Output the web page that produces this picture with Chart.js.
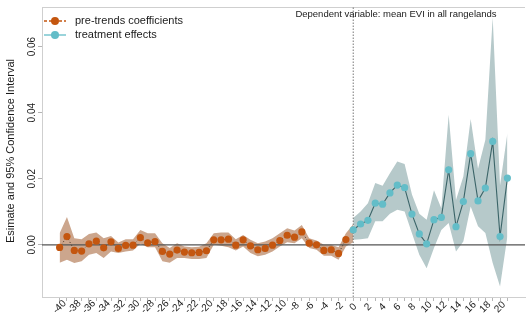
<!DOCTYPE html>
<html>
<head>
<meta charset="utf-8">
<script src="https://cdn.jsdelivr.net/npm/chart.js@4/dist/chart.umd.min.js"></script>
<style>
  html, body { margin: 0; padding: 0; background: #fff; }
  #wrap { width: 529px; height: 323px; position: relative; }
</style>
</head>
<body>
<div id="wrap"><canvas id="evi"></canvas></div>
<script>
// event time, pre-period (leads)
const preX = [-40, -39, -38, -37, -36, -35, -34, -33, -32, -31, -30, -29, -28, -27, -26, -25, -24, -23, -22, -21,
              -20, -19, -18, -17, -16, -15, -14, -13, -12, -11, -10, -9, -8, -7, -6, -5, -4, -3, -2, -1];
const preEst = [-0.0008, 0.0025, -0.0017, -0.0019, 0.0003, 0.0011, -0.0009, 0.0009, -0.0011, -0.0002,
                -0.0001, 0.0022, 0.0006, 0.0010, -0.0020, -0.0028, -0.0016, -0.0022, -0.0024, -0.0023,
                -0.0018, 0.0015, 0.0015, 0.0017, -0.0001, 0.0015, -0.0003, -0.0015, -0.0011, -0.0001,
                0.0013, 0.0029, 0.0023, 0.0039, 0.0005, 0.0000, -0.0017, -0.0015, -0.0026, 0.0016];
const preHi = [0.0035, 0.0084, 0.0020, 0.0017, 0.0033, 0.0037, 0.0020, 0.0027, 0.0007, 0.0017,
               0.0017, 0.0045, 0.0035, 0.0035, 0.0005, -0.0010, 0.0005, -0.0005, -0.0007, -0.0006,
               0.0005, 0.0035, 0.0037, 0.0037, 0.0017, 0.0030, 0.0015, 0.0005, 0.0010, 0.0020,
               0.0035, 0.0050, 0.0043, 0.0060, 0.0020, 0.0013, 0.0000, 0.0000, -0.0007, 0.0035];
const preLo = [-0.0054, -0.0045, -0.0055, -0.0050, -0.0030, -0.0025, -0.0040, -0.0020, -0.0025, -0.0020,
               -0.0017, 0.0003, -0.0007, -0.0007, -0.0050, -0.0054, -0.0040, -0.0040, -0.0043, -0.0043,
               -0.0040, 0.0000, -0.0003, -0.0007, -0.0017, -0.0005, -0.0025, -0.0035, -0.0030, -0.0020,
               -0.0005, 0.0008, 0.0005, 0.0020, -0.0010, -0.0015, -0.0033, -0.0033, -0.0045, -0.0005];

// event time, post-period (lags)
const postX = [0, 1, 2, 3, 4, 5, 6, 7, 8, 9, 10, 11, 12, 13, 14, 15, 16, 17, 18, 19, 20, 21];
const postEst = [0.0045, 0.0063, 0.0074, 0.0126, 0.0123, 0.0157, 0.0181, 0.0173, 0.0093, 0.0033, 0.0003,
                 0.0076, 0.0083, 0.0227, 0.0055, 0.0131, 0.0276, 0.0133, 0.0172, 0.0313, 0.0025, 0.0202];
const postHi = [0.0081, 0.0101, 0.0126, 0.0187, 0.0179, 0.0217, 0.0252, 0.0245, 0.0152, 0.0094, 0.0076,
                0.0165, 0.0111, 0.0394, 0.0136, 0.0207, 0.0381, 0.0230, 0.0318, 0.0688, 0.0180, 0.0338];
const postLo = [0.0015, 0.0017, 0.0020, 0.0071, 0.0071, 0.0094, 0.0106, 0.0101, 0.0035, -0.0030, -0.0071,
                -0.0010, 0.0045, 0.0066, -0.0020, 0.0010, 0.0116, 0.0056, 0.0036, -0.0055, -0.0126, 0.0025];

const xTicks = [];
for (let v = -40; v <= 21; v++) xTicks.push(v);
const xLabels = xTicks.filter(v => v % 2 === 0);
const yTicks = [0, 0.02, 0.04, 0.06];
const yTickLabels = ['0.00', '0.02', '0.04', '0.06'];

const title = 'Dependent variable: mean EVI in all rangelands';
const yTitle = 'Esimate and 95% Confidence Interval';
const seriesNames = ['pre-trends coefficients', 'treatment effects'];

const X_MIN = -42.4, X_MAX = 23.4;
const Y_MIN = -0.0158, Y_MAX = 0.072;

const ORANGE = '#c4560f';
const ORANGE_BAND = '#cca68d';
const TEAL = '#63bdc8';
const TEAL_LINE = '#3b6468';
const TEAL_BAND = '#b6c9ca';
const FONT = '"Liberation Sans", Arial, sans-serif';

const pts = (xs, ys) => xs.map((x, i) => ({ x: x, y: ys[i] }));

// orange band runs on to the first post period so the two bands meet
const preBandX = preX.concat([0]);
const preBandHi = preHi.concat([0.0062]);
const preBandLo = preLo.concat([0.0008]);

const annot = {
  id: 'annot',
  beforeDatasetsDraw(chart) {
    const { ctx, chartArea: a } = chart;
    ctx.save();
    ctx.strokeStyle = '#cfcfcf';
    ctx.lineWidth = 1;
    ctx.beginPath();
    ctx.moveTo(a.left, a.top + 0.5);
    ctx.lineTo(a.right, a.top + 0.5);
    ctx.stroke();
    ctx.restore();
  },
  afterDraw(chart) {
    const { ctx, chartArea: a, scales } = chart;
    const xs = scales.x, ys = scales.y;
    ctx.save();
    ctx.fillStyle = '#1a1a1a';

    // y tick labels, rotated
    ctx.font = '10px ' + FONT;
    ctx.textAlign = 'center';
    ctx.textBaseline = 'middle';
    yTicks.forEach((v, i) => {
      ctx.save();
      ctx.translate(32, ys.getPixelForValue(v));
      ctx.rotate(-Math.PI / 2);
      ctx.fillText(yTickLabels[i], 0, 0);
      ctx.restore();
    });

    // y title
    ctx.save();
    ctx.translate(11, (a.top + a.bottom) / 2 - 1);
    ctx.rotate(-Math.PI / 2);
    ctx.font = '11px ' + FONT;
    ctx.fillText(yTitle, 0, 0);
    ctx.restore();

    // x tick labels at 45 degrees
    ctx.font = '10px ' + FONT;
    xLabels.forEach(v => {
      ctx.save();
      ctx.translate(xs.getPixelForValue(v), a.bottom + 10);
      ctx.rotate(-Math.PI / 4);
      ctx.fillText(String(v), 0, 0);
      ctx.restore();
    });

    // heading
    ctx.font = '9.5px ' + FONT;
    ctx.textAlign = 'center';
    ctx.fillText(title, 396, 14);

    // legend
    const rows = [
      { y: 21, color: ORANGE, line: ORANGE, dash: [3, 2] },
      { y: 35, color: TEAL, line: TEAL, dash: [] }
    ];
    rows.forEach((r, i) => {
      ctx.strokeStyle = r.line;
      ctx.lineWidth = 1.3;
      ctx.setLineDash(r.dash);
      ctx.beginPath();
      ctx.moveTo(44, r.y);
      ctx.lineTo(66, r.y);
      ctx.stroke();
      ctx.setLineDash([]);
      ctx.fillStyle = r.color;
      ctx.beginPath();
      ctx.arc(55, r.y, 4, 0, Math.PI * 2);
      ctx.fill();
      ctx.fillStyle = '#1a1a1a';
      ctx.font = '11px ' + FONT;
      ctx.textAlign = 'left';
      ctx.fillText(seriesNames[i], 75, r.y);
    });
    ctx.restore();
  }
};

new Chart(document.getElementById('evi'), {
  type: 'line',
  data: {
    datasets: [
      { data: pts(preBandX, preBandHi), borderWidth: 0, pointRadius: 0, fill: '+1', backgroundColor: ORANGE_BAND, order: 5 },
      { data: pts(preBandX, preBandLo), borderWidth: 0, pointRadius: 0, fill: false, order: 5 },
      { data: pts(postX, postHi), borderWidth: 0, pointRadius: 0, fill: '+1', backgroundColor: TEAL_BAND, order: 4 },
      { data: pts(postX, postLo), borderWidth: 0, pointRadius: 0, fill: false, order: 4 },
      // zero reference and treatment onset
      { data: [{ x: X_MIN, y: 0 }, { x: X_MAX, y: 0 }], borderColor: '#555', borderWidth: 1.2, pointRadius: 0, fill: false, order: 3 },
      { data: [{ x: 0, y: Y_MIN }, { x: 0, y: Y_MAX }], borderColor: '#555', borderWidth: 0.8, borderDash: [1.5, 1.5], pointRadius: 0, fill: false, order: 3 },
      { data: pts(preX, preEst), borderColor: '#4a3526', borderWidth: 0.9, borderDash: [1.2, 2], pointRadius: 3.6,
        pointBackgroundColor: ORANGE, pointBorderWidth: 0, fill: false, order: 2 },
      { data: pts(postX, postEst), borderColor: TEAL_LINE, borderWidth: 1.1, pointRadius: 3.6,
        pointBackgroundColor: TEAL, pointBorderWidth: 0, fill: false, order: 1 }
    ]
  },
  options: {
    animation: false,
    responsive: true,
    maintainAspectRatio: false,
    layout: { padding: { top: 7, right: 0, left: 0, bottom: 0 } },
    plugins: { legend: { display: false }, tooltip: { enabled: false } },
    elements: { line: { tension: 0 } },
    scales: {
      x: {
        type: 'linear', min: X_MIN, max: X_MAX,
        afterBuildTicks: s => { s.ticks = xTicks.map(v => ({ value: v })); },
        afterFit: s => { s.height = 26; },
        ticks: { display: false },
        grid: { drawOnChartArea: false, drawTicks: true, tickLength: 4, color: '#b5b5b5' },
        border: { color: '#cfcfcf' }
      },
      y: {
        type: 'linear', min: Y_MIN, max: Y_MAX,
        afterBuildTicks: s => { s.ticks = yTicks.map(v => ({ value: v })); },
        afterFit: s => { s.width = 42; },
        ticks: { display: false },
        grid: { drawOnChartArea: false, drawTicks: true, tickLength: 4, color: '#b5b5b5' },
        border: { color: '#cfcfcf' }
      }
    }
  },
  plugins: [annot]
});
</script>
</body>
</html>
